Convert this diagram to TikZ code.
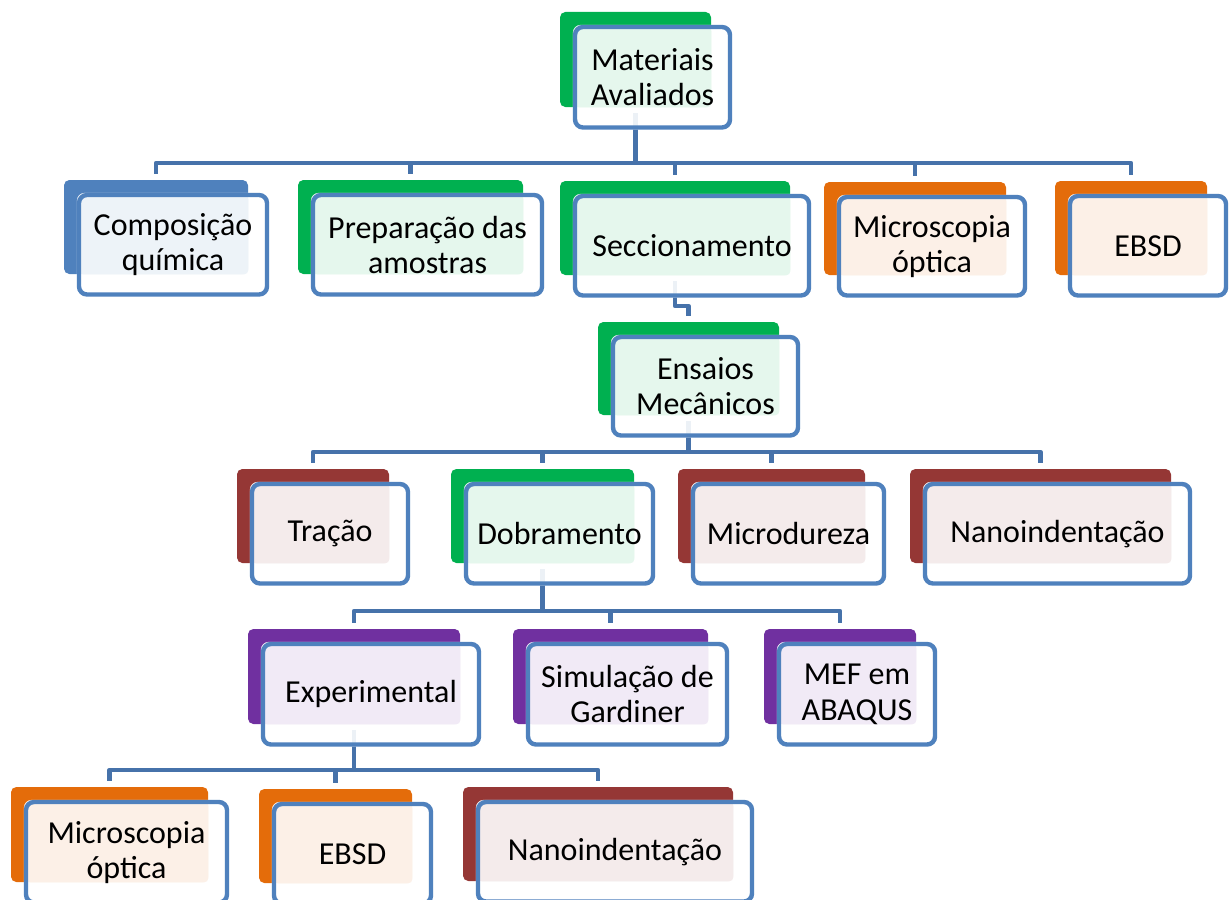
\documentclass[tikz,border=0pt]{standalone}
\usepackage{fontspec}
\setmainfont{Carlito}
\usetikzlibrary{calc}
\pgfdeclarelayer{base}
\pgfdeclarelayer{bg}
\pgfdeclarelayer{conn}
\pgfdeclarelayer{mid}
\pgfsetlayers{base,bg,conn,mid,main}
\definecolor{frameblue}{HTML}{4F81BD}
\definecolor{connblue}{HTML}{4672AA}
\definecolor{cgreen}{HTML}{00B050}
\definecolor{cblue}{HTML}{4F81BD}
\definecolor{corange}{HTML}{E46C0A}
\definecolor{cred}{HTML}{953735}
\definecolor{cpurple}{HTML}{7030A0}
\tikzset{
  backbox/.style={rounded corners=4pt, inner sep=0pt, draw=none},
  frontbox/.style={rounded corners=6pt, draw=frameblue, line width=3.3pt, inner sep=0pt,
    align=center, font=\fontsize{24}{26.5}\selectfont},
  conn/.style={line width=3.3pt, draw=connblue, line join=round},
}
\newcommand\smartbox[7]{%
  \begin{pgfonlayer}{bg}
    \node[backbox, fill=#2, minimum width={(#5-#3)*0.75pt}, minimum height={(#6-#4)*0.75pt}]
      (#1-bg) at ({(#3+#5)/2},{(#4+#6)/2}) {};
  \end{pgfonlayer}
  \node[frontbox, minimum width={(#5-#3+4)*0.75pt}, minimum height={(#6-#4+5.5)*0.75pt}]
    (#1) at ({(#3+#5)/2+17},{(#4+#6)/2+17.75}) {#7};
  \begin{pgfonlayer}{mid}
    \fill[white, fill opacity=0.9, rounded corners=6pt] (#1.north west) rectangle (#1.south east);
    \fill[#2!10, rounded corners=3pt] ([xshift=1.6pt,yshift=-1.6pt]#1.north west) rectangle (#1-bg.south east);
  \end{pgfonlayer}
}
\begin{document}
\begin{tikzpicture}[x=0.75pt,y=-0.75pt]
\useasboundingbox (0,0) rectangle (1230,899);
\begin{pgfonlayer}{base}
  \fill[white] (0,0) rectangle (1230,899);
\end{pgfonlayer}
% level 0
\smartbox{mat}{cgreen}{560}{12}{711}{107}{Materiais\\Avaliados}
% level 1
\smartbox{comp}{cblue}{64}{180}{248}{274}{Composição\\química}
\smartbox{prep}{cgreen}{298}{180}{523}{274}{Preparação das\\amostras}
\smartbox{secc}{cgreen}{560}{181}{790}{275}{Seccionamento}
\smartbox{mic1}{corange}{824}{182}{1006}{275}{Microscopia\\óptica}
\smartbox{ebs1}{corange}{1055}{181}{1207}{275}{EBSD}
% ensaios
\smartbox{ens}{cgreen}{598}{322}{779}{415}{Ensaios\\Mecânicos}
% level 2
\smartbox{trac}{cred}{237}{469}{389}{563}{Tração}
\smartbox{dobr}{cgreen}{451}{469}{634}{563}{Dobramento}
\smartbox{micd}{cred}{678}{469}{865}{563}{Microdureza}
\smartbox{nan1}{cred}{910}{469}{1171}{563}{Nanoindentação}
% level 3
\smartbox{exp}{cpurple}{248}{629}{460}{724}{Experimental}
\smartbox{sim}{cpurple}{513}{629}{708}{724}{Simulação de\\Gardiner}
\smartbox{mef}{cpurple}{764}{629}{916}{724}{MEF em\\ABAQUS}
% level 4
\smartbox{mic2}{corange}{11}{787}{208}{882}{Microscopia\\óptica}
\smartbox{ebs2}{corange}{259}{789}{412}{883}{EBSD}
\smartbox{nan2}{cred}{463}{787}{733}{881}{Nanoindentação}
% connectors
\coordinate (bar1) at (0,163);
\coordinate (jog) at (0,306);
\coordinate (bar2) at (0,452);
\coordinate (bar3) at (0,611);
\coordinate (bar4) at (0,770);
\begin{pgfonlayer}{conn}
  \foreach \c in {comp,prep,secc,mic1,ebs1}
    \draw[conn] ([yshift=-4.5pt]mat-bg.south) |- (\c-bg.north |- bar1) -- ([yshift=4.5pt]\c-bg.north);
  \draw[conn] ([yshift=-4.5pt]secc-bg.south) |- (ens-bg.north |- jog) -- ([yshift=4.5pt]ens-bg.north);
  \foreach \c in {trac,dobr,micd,nan1}
    \draw[conn] ([yshift=-4.5pt]ens-bg.south) |- (\c-bg.north |- bar2) -- ([yshift=4.5pt]\c-bg.north);
  \foreach \c in {exp,sim,mef}
    \draw[conn] ([yshift=-4.5pt]dobr-bg.south) |- (\c-bg.north |- bar3) -- ([yshift=4.5pt]\c-bg.north);
  \foreach \c in {mic2,ebs2,nan2}
    \draw[conn] ([yshift=-4.5pt]exp-bg.south) |- (\c-bg.north |- bar4) -- ([yshift=4.5pt]\c-bg.north);
\end{pgfonlayer}
\end{tikzpicture}
\end{document}
